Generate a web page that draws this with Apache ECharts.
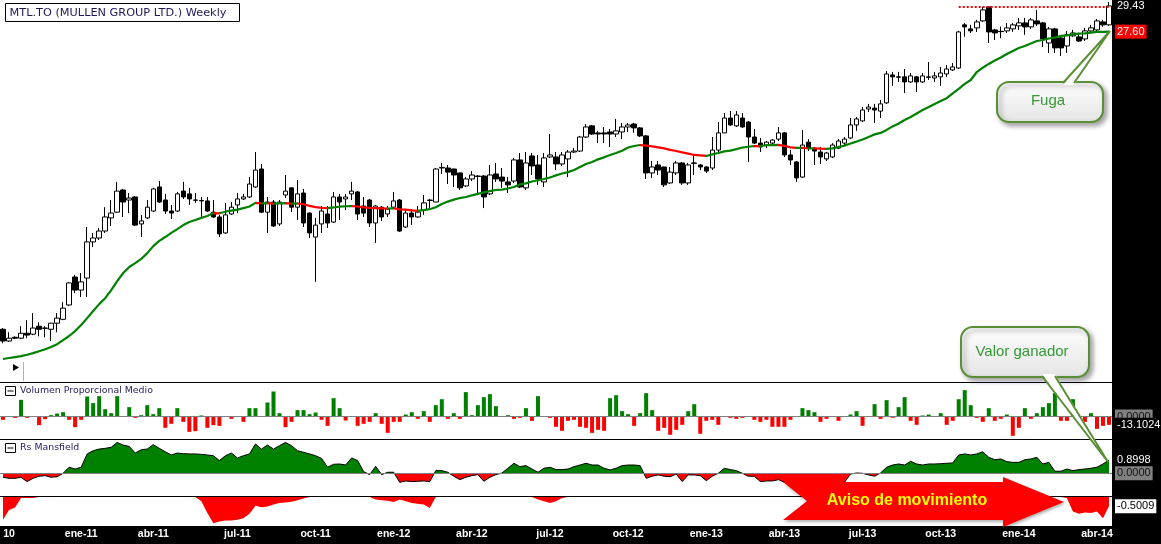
<!DOCTYPE html>
<html>
<head>
<meta charset="utf-8">
<title>MTL.TO Weekly</title>
<script src="https://cdn.jsdelivr.net/npm/echarts@6.0.0/dist/echarts.min.js"></script>
<style>
  html, body { margin: 0; padding: 0; background: #000; }
  #chart { width: 1161px; height: 544px; }
</style>
</head>
<body>
<div id="chart"></div>
<script>
// weekly candles, oct-10 .. abr-14
const open = [
  13.12,12.74,12.86,12.83,12.99,12.96,13.22,13.16,13.12,13.32,
  13.45,13.94,14.95,14.47,14.91,16.32,16.48,16.77,17.33,17.58,
  18.58,18.12,18.26,17.07,17.33,17.63,18.72,18.12,17.63,17.63,
  18.53,18.40,18.12,18.10,18.08,17.58,17.37,16.69,17.50,17.90,
  18.17,18.26,18.72,19.58,17.58,18.03,17.07,18.35,18.68,17.80,
  18.44,17.54,16.52,17.07,17.50,17.15,18.26,18.17,18.40,18.49,
  17.85,18.12,17.11,17.80,17.50,17.80,18.12,16.94,17.54,17.37,
  17.67,18.10,18.03,19.63,19.63,19.58,19.39,18.77,19.10,19.24,
  19.24,18.40,19.34,19.19,18.96,19.00,20.03,18.68,20.23,19.78,
  18.96,20.18,20.18,19.83,20.08,20.43,20.48,21.21,21.81,21.43,
  21.43,21.48,21.37,21.48,21.75,21.91,21.70,21.27,19.39,19.78,
  19.68,18.91,19.39,19.88,18.91,19.88,19.78,19.68,19.63,20.53,
  21.43,22.24,21.81,22.24,22.02,21.21,20.89,20.79,20.89,21.10,
  21.43,20.28,19.93,19.19,20.94,20.63,20.43,20.08,20.18,20.63,
  20.89,21.16,21.86,22.08,22.75,22.80,22.63,23.10,24.77,24.65,
  24.65,24.34,24.65,24.34,24.62,24.58,24.65,24.83,25.08,25.20,
  28.07,27.79,27.86,28.35,29.36,27.72,27.62,27.65,27.79,28.00,
  28.21,27.93,28.35,28.21,26.83,27.79,27.17,26.63,27.31,27.24,
  27.10,27.65,27.72,28.28,28.07
];
const high = [
  13.16,13.02,12.89,13.22,13.42,13.66,13.35,13.22,13.33,13.66,
  14.04,14.76,15.03,15.10,16.94,16.69,16.90,17.80,18.12,18.96,
  18.63,18.44,18.30,17.46,18.12,18.68,19.00,18.40,17.90,18.49,
  18.96,18.68,18.44,18.26,18.26,18.12,17.46,17.99,18.03,18.44,
  18.40,19.19,20.43,19.83,18.26,18.12,18.12,19.29,18.70,19.05,
  18.63,17.56,17.33,17.85,17.85,18.49,18.40,18.40,18.96,18.53,
  18.26,18.17,17.90,17.85,17.85,18.49,18.17,17.67,17.71,17.85,
  18.35,18.17,19.63,19.88,19.78,19.60,19.41,19.19,19.48,19.29,
  19.29,19.78,19.88,19.63,19.19,20.13,20.38,20.43,20.38,20.28,
  20.38,21.37,20.43,20.43,20.53,20.63,21.27,21.91,21.86,21.54,
  21.75,21.64,22.19,21.97,21.97,21.97,21.75,21.32,19.98,19.98,
  19.70,19.68,19.98,19.93,19.88,20.28,19.83,19.73,21.21,22.02,
  22.52,22.63,22.63,22.52,22.08,21.64,21.16,21.00,21.10,21.75,
  21.48,20.53,19.98,21.59,21.10,20.69,20.69,20.43,20.89,21.10,
  21.21,22.24,22.30,22.86,23.04,23.04,23.27,25.02,24.96,24.96,
  25.14,24.89,24.71,24.89,25.58,24.96,25.27,25.39,25.52,27.65,
  28.21,28.07,28.42,29.36,29.38,27.79,27.95,28.21,28.21,28.56,
  28.56,28.56,29.14,28.28,27.93,27.86,27.24,27.65,27.72,27.51,
  27.86,28.07,28.49,28.42,29.72
];
const low = [
  12.67,12.71,12.80,12.80,12.83,12.93,12.89,12.86,12.74,13.02,
  13.42,13.90,14.36,14.22,14.22,16.11,16.40,16.69,16.98,17.54,
  17.37,17.54,16.98,16.52,17.28,17.58,17.99,17.50,17.28,17.58,
  18.17,17.90,17.99,17.37,17.58,17.33,16.52,16.65,17.46,17.54,
  18.12,18.21,18.68,17.54,16.69,16.94,16.98,18.21,17.58,17.24,
  16.94,16.48,14.77,16.69,16.90,17.11,17.24,17.67,18.12,17.24,
  17.37,16.94,16.28,17.20,17.37,17.76,16.73,16.90,17.02,17.33,
  17.46,17.76,18.03,19.34,18.86,18.72,18.58,18.72,19.00,18.44,
  17.76,18.35,18.96,18.68,18.44,18.91,18.68,18.58,19.29,18.82,
  18.72,20.13,19.53,19.73,19.19,20.38,20.43,21.16,21.32,20.89,
  20.89,20.69,21.21,21.10,21.48,21.43,21.21,19.10,19.15,19.29,
  18.72,18.86,19.29,18.82,18.82,19.29,19.53,19.39,19.53,20.43,
  21.43,21.81,21.75,21.70,19.93,20.84,20.43,20.63,20.79,21.00,
  20.18,19.78,18.96,19.15,20.48,19.78,19.83,19.98,20.13,20.58,
  20.79,21.10,21.54,22.02,22.58,21.97,22.24,23.04,24.10,24.34,
  23.68,24.28,23.74,24.28,24.46,24.34,24.10,24.65,25.02,25.14,
  27.24,27.51,27.58,28.28,26.83,27.03,27.15,27.51,27.58,27.72,
  27.38,27.79,28.00,26.56,26.17,26.17,25.97,26.17,27.24,26.90,
  26.96,27.58,27.58,27.93,28.00
];
const close = [
  12.74,12.83,12.83,12.99,12.93,13.16,13.12,13.15,13.32,13.49,
  13.83,14.73,14.47,14.77,16.32,16.48,16.77,17.37,17.54,18.53,
  18.03,18.21,17.02,17.20,17.80,18.63,18.03,17.63,17.54,18.40,
  18.26,18.17,18.11,18.08,17.63,17.37,16.65,17.46,17.80,18.17,
  18.26,18.86,19.53,17.58,18.03,16.98,18.03,18.53,17.80,18.40,
  17.11,16.69,17.02,17.63,17.11,18.26,18.03,18.26,18.53,17.50,
  17.54,17.11,17.85,17.37,17.71,18.08,16.77,17.54,17.37,17.58,
  17.99,18.12,19.58,19.66,19.43,19.29,18.68,19.10,19.29,19.22,
  18.26,19.29,19.10,19.00,18.82,20.03,18.72,19.88,19.73,19.10,
  20.13,20.28,19.83,20.28,20.43,20.48,21.21,21.75,21.37,21.37,
  21.37,21.37,21.54,21.75,21.86,21.70,21.27,19.39,19.68,19.53,
  18.82,19.43,19.88,18.91,19.78,19.86,19.68,19.48,20.53,21.43,
  22.24,21.86,22.41,21.75,21.21,20.89,20.69,20.94,21.05,21.43,
  20.28,20.03,19.15,20.79,20.63,20.48,20.18,20.38,20.79,21.00,
  21.10,21.86,22.19,22.69,22.86,22.69,23.04,24.83,24.65,24.63,
  24.34,24.71,24.34,24.71,24.65,24.71,24.89,25.14,25.27,27.58,
  27.93,27.65,28.28,29.14,27.58,27.51,27.60,27.86,28.07,28.21,
  27.93,28.42,28.14,27.10,27.79,26.50,26.50,27.38,27.51,26.96,
  27.65,27.86,28.35,28.07,29.43
];
// moving average as drawn (green rising, red falling)
const ma = [
  12.18,12.21,12.24,12.27,12.31,12.36,12.42,12.48,12.55,12.64,
  12.77,12.90,13.06,13.26,13.49,13.73,13.97,14.18,14.47,14.80,
  15.10,15.33,15.48,15.64,15.87,16.15,16.36,16.52,16.69,16.85,
  17.02,17.15,17.24,17.33,17.41,17.54,17.53,17.60,17.65,17.69,
  17.76,17.83,17.99,17.97,17.98,17.96,17.97,17.98,17.96,17.97,
  17.93,17.86,17.80,17.77,17.76,17.79,17.82,17.84,17.85,17.83,
  17.79,17.77,17.76,17.75,17.74,17.75,17.70,17.69,17.66,17.64,
  17.67,17.71,17.80,17.94,18.05,18.14,18.21,18.26,18.33,18.40,
  18.47,18.53,18.58,18.60,18.65,18.72,18.84,18.89,18.98,19.04,
  19.10,19.17,19.27,19.36,19.43,19.53,19.68,19.83,19.93,20.06,
  20.16,20.28,20.38,20.50,20.66,20.74,20.79,20.76,20.72,20.67,
  20.62,20.54,20.48,20.41,20.35,20.28,20.26,20.23,20.31,20.38,
  20.46,20.50,20.58,20.66,20.70,20.74,20.73,20.78,20.79,20.80,
  20.75,20.67,20.64,20.65,20.61,20.62,20.60,20.59,20.62,20.69,
  20.76,20.87,20.97,21.08,21.21,21.35,21.43,21.59,21.78,21.94,
  22.13,22.30,22.49,22.69,22.86,23.04,23.21,23.37,23.65,23.92,
  24.22,24.46,24.95,25.22,25.46,25.68,25.87,26.10,26.30,26.49,
  26.63,26.80,26.96,27.03,27.13,27.20,27.31,27.34,27.41,27.46,
  27.48,27.53,27.58,27.59,27.60
];
// Volumen Proporcional Medio
const volProp = [
  -5.2,0,-2.1,26.2,-2.1,0,-13.6,-4.2,2.1,4.7,
  6.8,-5.2,-16.8,-5.2,31.4,21.0,32.0,11.5,5.2,32.0,
  0,14.7,-2.1,2.1,17.8,3.7,13.1,-17.8,-11.5,13.1,
  -8.4,-24.1,-23.1,1.6,-17.8,-13.6,-14.7,0,-3.7,0,
  -8.4,13.1,13.1,0,22.0,39.3,5.2,-16.8,-8.4,10.0,
  10.0,3.7,6.3,-5.2,-14.7,28.8,13.1,-6.3,0,-14.7,
  -11.5,-8.4,5.2,-11.5,-25.7,-8.4,-8.4,3.1,6.8,-3.7,
  8.4,-8.4,17.8,27.2,-3.7,5.2,-3.7,38.3,2.1,17.8,
  30.4,35.1,16.2,0,2.1,-3.7,-2.1,13.1,-6.8,32.0,
  0,-2.1,-16.2,-22.5,-6.8,-5.2,-16.2,-17.8,-25.7,-21.0,
  -22.5,28.8,33.5,8.4,3.7,-14.7,5.2,36.7,10.0,-22.5,
  -17.8,-28.8,-21.0,-13.1,8.4,19.4,-27.2,-6.8,-5.2,-13.1,
  0,-2.1,-3.7,-2.1,0,-5.2,-8.4,-5.2,-16.2,-16.2,
  -16.2,-5.2,0,13.1,10.0,6.8,-8.4,-3.7,0,-6.8,
  0,3.1,8.4,-14.7,0,19.4,-3.7,25.7,-2.1,14.7,
  30.4,-6.8,-13.1,1.6,3.1,0,5.2,-13.1,-6.8,27.2,
  41.4,17.8,-2.1,-8.4,13.1,-6.8,-3.7,3.1,-30.4,-17.8,
  13.1,-3.7,5.2,14.7,21.0,36.7,-6.8,-6.8,27.2,-5.2,
  -8.4,5.2,-19.4,-14.7,-13.1024
];
// Rs Mansfield
const rsMansfield = [
  -0.27,-0.34,-0.34,-0.27,-0.56,-0.34,-0.20,-0.16,-0.27,-0.23,
  0.00,0.41,0.29,0.41,1.31,1.53,1.64,1.69,1.76,2.09,
  1.91,1.82,1.37,1.60,1.64,1.94,1.69,1.46,1.24,1.37,
  1.33,1.31,1.31,1.28,1.24,1.19,0.86,1.19,1.37,1.04,
  1.19,1.31,1.98,1.64,1.91,1.64,1.87,2.09,1.87,1.53,
  1.42,1.31,1.19,1.01,0.41,0.61,0.63,0.56,1.04,0.86,
  0.11,-0.09,0.47,-0.09,0.07,0.07,-0.61,-0.52,-0.56,-0.54,
  -0.52,-0.56,0.18,0.18,0.07,-0.20,-0.43,-0.27,-0.16,-0.09,
  -0.54,-0.27,-0.09,0.02,0.34,0.68,0.45,0.52,0.29,0.07,
  0.34,0.41,0.25,0.25,0.29,0.45,0.56,0.68,0.56,0.56,
  0.34,0.23,0.34,0.52,0.56,0.56,0.52,-0.34,-0.20,-0.11,
  -0.20,-0.23,-0.05,-0.56,-0.11,-0.11,-0.16,-0.50,-0.20,0.00,
  0.34,0.25,0.18,0.00,-0.20,-0.20,-0.56,-0.52,-0.52,-0.43,
  -0.61,-0.77,-0.72,-0.79,-0.77,-0.77,-0.77,-0.79,-0.79,-0.79,
  -0.61,-0.05,0.02,0.00,-0.11,-0.20,0.02,0.41,0.56,0.63,
  0.56,0.81,0.63,0.56,0.63,0.63,0.65,0.68,0.70,1.24,
  1.31,1.24,1.31,1.46,1.08,0.92,0.97,0.79,0.74,0.74,
  0.92,0.97,1.08,0.63,0.74,0.14,0.14,0.29,0.18,0.25,
  0.29,0.34,0.41,0.63,0.8998
];
// lower (untitled) panel
const lowerPanel = [
  -1.22,-0.70,-0.56,-0.05,-0.05,-0.05,0,0,0,0,
  0,0,0,0,0,0,0,0,0,0,
  0,0,0,0,0,0,0,0,0,0,
  0,0,0,-0.23,-0.86,-1.41,-1.32,-1.26,-1.26,-1.23,
  -1.14,-0.90,-0.47,-0.55,-0.51,-0.41,-0.33,-0.29,-0.25,-0.18,
  -0.08,0,0,0,0,0,0,0,0,0,
  0,0,-0.14,-0.18,-0.20,-0.27,-0.14,-0.23,-0.33,-0.36,
  -0.41,-0.59,0,0,0,0,0,0,0,0,
  0,0,0,0,0,0,0,0,0,-0.14,
  -0.23,-0.33,-0.23,-0.06,0,0,0,0,0,0,
  0,0,0,0,0,0,0,0,0,0,
  0,0,0,0,0,0,0,0,0,0,
  0,0,0,0,0,0,0,0,0,0,
  0,0,0,0,0,0,0,0,0,0,
  0,0,0,0,0,0,0,0,0,0,
  0,0,0,0,0,0,0,0,0,0,
  0,0,0,0,0,0,0,0,0,0,
  0,0,0,0,0,0,0,-0.06,-0.78,-0.90,
  -0.83,-0.86,-0.78,-1.14,-0.5009
];
// x axis tick labels and the week they sit on
const tickLabels = ['10','ene-11','abr-11','jul-11','oct-11','ene-12','abr-12','jul-12','oct-12','ene-13','abr-13','jul-13','oct-13','ene-14','abr-14'];
const tickIdx = [1,13,25,39,52,65,78,91,104,117,130,143,156,169,182];
// dotted resistance line
const resistLevel = 29.36;
const resistFrom = 159;

const weeks = close.map((_, i) => String(i));
const candles = close.map((c, i) => [open[i], c, low[i], high[i]]);
const last = close.length - 1;

// falling stretches of the average -> red
const maFall = [];
for (let i = 0; i < ma.length - 1; i++) {
  if (ma[i + 1] < ma[i]) {
    const p = maFall[maFall.length - 1];
    if (p && p.lte === i) p.lte = i + 1;
    else maFall.push({ gte: i, lte: i + 1, color: '#ff0000' });
  }
}

const chart = echarts.init(document.getElementById('chart'), null, { width: 1161, height: 544 });

const LBL = 'Liberation Sans, Arial, sans-serif';
const NOLINE = { color: 'rgba(0,0,0,0)', width: 1 };
function axisTag(value, txt, fg, bg, lineStyle) {
  return {
    yAxis: value,
    lineStyle: lineStyle || NOLINE,
    label: {
      show: true, position: 'end', distance: 3, formatter: txt,
      color: fg, backgroundColor: bg, padding: [2, 2, 1, 2],
      fontSize: 11, fontFamily: LBL
    }
  };
}
const ZERO = { color: '#808080', width: 1, type: 'solid' };

const gridBase = { left: 0, width: 1112, show: true, backgroundColor: '#fff', borderWidth: 0, outerBoundsMode: 'none' };
const hiddenX = (i) => ({ type: 'category', gridIndex: i, data: weeks, boundaryGap: true, show: false });

const boxFill = { type: 'linear', x: 0, y: 0, x2: 0, y2: 1, colorStops: [{ offset: 0, color: '#ffffff' }, { offset: 1, color: '#e4e4e4' }] };
const calloutGreen = '#5a8f35';
const shadow = { shadowBlur: 5, shadowColor: 'rgba(0,0,0,0.35)', shadowOffsetX: 3, shadowOffsetY: 3 };

const option = {
  animation: false,
  backgroundColor: '#000',
  grid: [
    Object.assign({ top: 0, height: 382 }, gridBase),
    Object.assign({ top: 383, height: 56 }, gridBase),
    Object.assign({ top: 440, height: 56 }, gridBase),
    Object.assign({ top: 497, height: 29 }, gridBase)
  ],
  xAxis: [
    hiddenX(0), hiddenX(1), hiddenX(2),
    {
      type: 'category', gridIndex: 3, data: weeks, boundaryGap: true,
      axisLine: { show: false }, axisTick: { show: false }, splitLine: { show: false },
      axisLabel: {
        interval: (idx) => tickIdx.indexOf(idx) >= 0,
        formatter: (v, idx) => tickLabels[tickIdx.indexOf(idx)] || '',
        color: '#fff', fontWeight: 'bold', fontSize: 10.5, fontFamily: LBL, margin: 3
      }
    }
  ],
  yAxis: [
    { type: 'log', gridIndex: 0, min: 11.50, max: 29.87, show: false },
    { type: 'value', gridIndex: 1, min: -35.37, max: 52.66, show: false },
    { type: 'value', gridIndex: 2, min: -1.537, max: 2.254, show: false },
    { type: 'value', gridIndex: 3, min: -1.563, max: 0, show: false }
  ],
  visualMap: [
    { type: 'piecewise', show: false, seriesIndex: 1, dimension: 0, pieces: maFall, outOfRange: { color: '#008000' } },
    { type: 'piecewise', show: false, seriesIndex: 3, dimension: 1,
      pieces: [{ gte: -5, lt: 0, color: '#ff0000' }, { gte: 0, lte: 5, color: '#008000' }],
      outOfRange: { color: '#008000' } }
  ],
  series: [
    {
      type: 'candlestick', xAxisIndex: 0, yAxisIndex: 0, data: candles, barWidth: 5,
      itemStyle: { color: '#ffffff', color0: '#000000', borderColor: '#000000', borderColor0: '#000000', borderWidth: 1 },
      markLine: {
        silent: true, symbol: ['none', 'none'],
        data: [
          [
            { coord: [resistFrom, resistLevel], lineStyle: { color: '#ff0000', type: [2, 2], width: 2 }, label: { show: false } },
            { coord: [last, resistLevel] }
          ],
          axisTag(close[last], close[last].toFixed(2), '#fff', 'transparent')
        ]
      }
    },
    {
      type: 'line', xAxisIndex: 0, yAxisIndex: 0, data: ma, showSymbol: false, z: 5,
      lineStyle: { width: 2.2 },
      markLine: {
        silent: true, symbol: ['none', 'none'],
        data: [axisTag(ma[last], ma[last].toFixed(2), '#fff', '#ff0000')]
      }
    },
    {
      type: 'bar', xAxisIndex: 1, yAxisIndex: 1, data: volProp, barWidth: 4,
      itemStyle: { color: (p) => (p.value >= 0 ? '#008000' : '#ff0000') },
      markLine: {
        silent: true, symbol: ['none', 'none'],
        data: [
          axisTag(0, '0.0000', '#111', '#808080', ZERO),
          axisTag(volProp[last], volProp[last].toFixed(4), '#fff', '#000')
        ]
      }
    },
    {
      type: 'line', xAxisIndex: 2, yAxisIndex: 2, data: rsMansfield, showSymbol: false,
      lineStyle: { color: '#000', width: 1 }, areaStyle: { opacity: 1 },
      markLine: {
        silent: true, symbol: ['none', 'none'],
        data: [
          axisTag(rsMansfield[last], rsMansfield[last].toFixed(4), '#fff', 'transparent'),
          axisTag(0, '0.0000', '#111', '#808080', ZERO)
        ]
      }
    },
    {
      type: 'line', xAxisIndex: 3, yAxisIndex: 3, data: lowerPanel, showSymbol: false,
      lineStyle: { opacity: 0 }, areaStyle: { color: '#ff0000', opacity: 1 },
      markLine: {
        silent: true, symbol: ['none', 'none'],
        data: [axisTag(lowerPanel[last], lowerPanel[last].toFixed(4), '#000', '#fff')]
      }
    }
  ],
  graphic: [
    // title
    { type: 'rect', z: 50, shape: { x: 5.5, y: 3.5, width: 234, height: 18 }, style: { fill: '#fff', stroke: '#000', lineWidth: 1 } },
    { type: 'text', z: 51, style: { x: 9.5, y: 13, text: 'MTL.TO (MULLEN GROUP LTD.) Weekly', font: '11.3px "DejaVu Sans"', fill: '#1e1a5a', verticalAlign: 'middle' } },
    // play marker
    { type: 'polygon', z: 50, shape: { points: [[13, 364], [13, 371], [19, 367.5]] }, style: { fill: '#000' } },
    { type: 'line', z: 50, shape: { x1: 23.5, y1: 362, x2: 23.5, y2: 381 }, style: { stroke: '#b0b0b0', lineWidth: 1 } },
    // panel titles
    { type: 'rect', z: 50, shape: { x: 5.5, y: 386.5, width: 10, height: 9 }, style: { fill: '#fff', stroke: '#000', lineWidth: 1 } },
    { type: 'line', z: 51, shape: { x1: 7.5, y1: 391, x2: 13.5, y2: 391 }, style: { stroke: '#000', lineWidth: 1 } },
    { type: 'text', z: 51, style: { x: 20, y: 391, text: 'Volumen Proporcional Medio', font: '9.4px "DejaVu Sans"', fill: '#2a2060', verticalAlign: 'middle' } },
    { type: 'rect', z: 50, shape: { x: 5.5, y: 443.5, width: 10, height: 9 }, style: { fill: '#fff', stroke: '#000', lineWidth: 1 } },
    { type: 'line', z: 51, shape: { x1: 7.5, y1: 448, x2: 13.5, y2: 448 }, style: { stroke: '#000', lineWidth: 1 } },
    { type: 'text', z: 51, style: { x: 20, y: 448, text: 'Rs Mansfield', font: '9.4px "DejaVu Sans"', fill: '#2a2060', verticalAlign: 'middle' } },
    // "Fuga" callout
    { type: 'rect', z: 60, shape: { x: 997, y: 82, width: 106, height: 40, r: 12 }, style: Object.assign({ fill: boxFill, stroke: calloutGreen, lineWidth: 2 }, shadow) },
    { type: 'polygon', z: 61, shape: { points: [[1063, 85], [1110, 31], [1074, 85]] }, style: { fill: '#fff' } },
    { type: 'polyline', z: 62, shape: { points: [[1063, 83], [1110, 31], [1074, 83]] }, style: { stroke: calloutGreen, lineWidth: 2, fill: null } },
    { type: 'text', z: 63, style: { x: 1048, y: 101, text: 'Fuga', font: '15px "Liberation Sans"', fill: '#339933', align: 'center', verticalAlign: 'middle' } },
    // "Valor ganador" callout
    { type: 'rect', z: 60, shape: { x: 961, y: 327, width: 128, height: 50, r: 12 }, style: Object.assign({ fill: boxFill, stroke: calloutGreen, lineWidth: 2 }, shadow) },
    { type: 'polygon', z: 61, shape: { points: [[1042, 374], [1108, 462], [1055, 374]] }, style: { fill: '#fff' } },
    { type: 'polyline', z: 62, shape: { points: [[1042, 376], [1108, 462], [1055, 376]] }, style: { stroke: calloutGreen, lineWidth: 2, fill: null } },
    { type: 'text', z: 63, style: { x: 1022, y: 352, text: 'Valor ganador', font: '15px "Liberation Sans"', fill: '#339933', align: 'center', verticalAlign: 'middle' } },
    // red arrow
    { type: 'polygon', z: 60, shape: { points: [[783, 482], [1003, 482], [1003, 477], [1064, 502], [1003, 527], [1003, 520], [783, 520], [807, 501]] },
      style: { fill: '#ff0000', shadowBlur: 3, shadowColor: 'rgba(0,0,0,0.3)', shadowOffsetX: 1, shadowOffsetY: 2 } },
    { type: 'text', z: 61, style: { x: 907, y: 501, text: 'Aviso de movimiento', font: 'bold 16px "Liberation Sans"', fill: '#ffff00', align: 'center', verticalAlign: 'middle' } }
  ]
};

chart.setOption(option);
</script>
</body>
</html>
